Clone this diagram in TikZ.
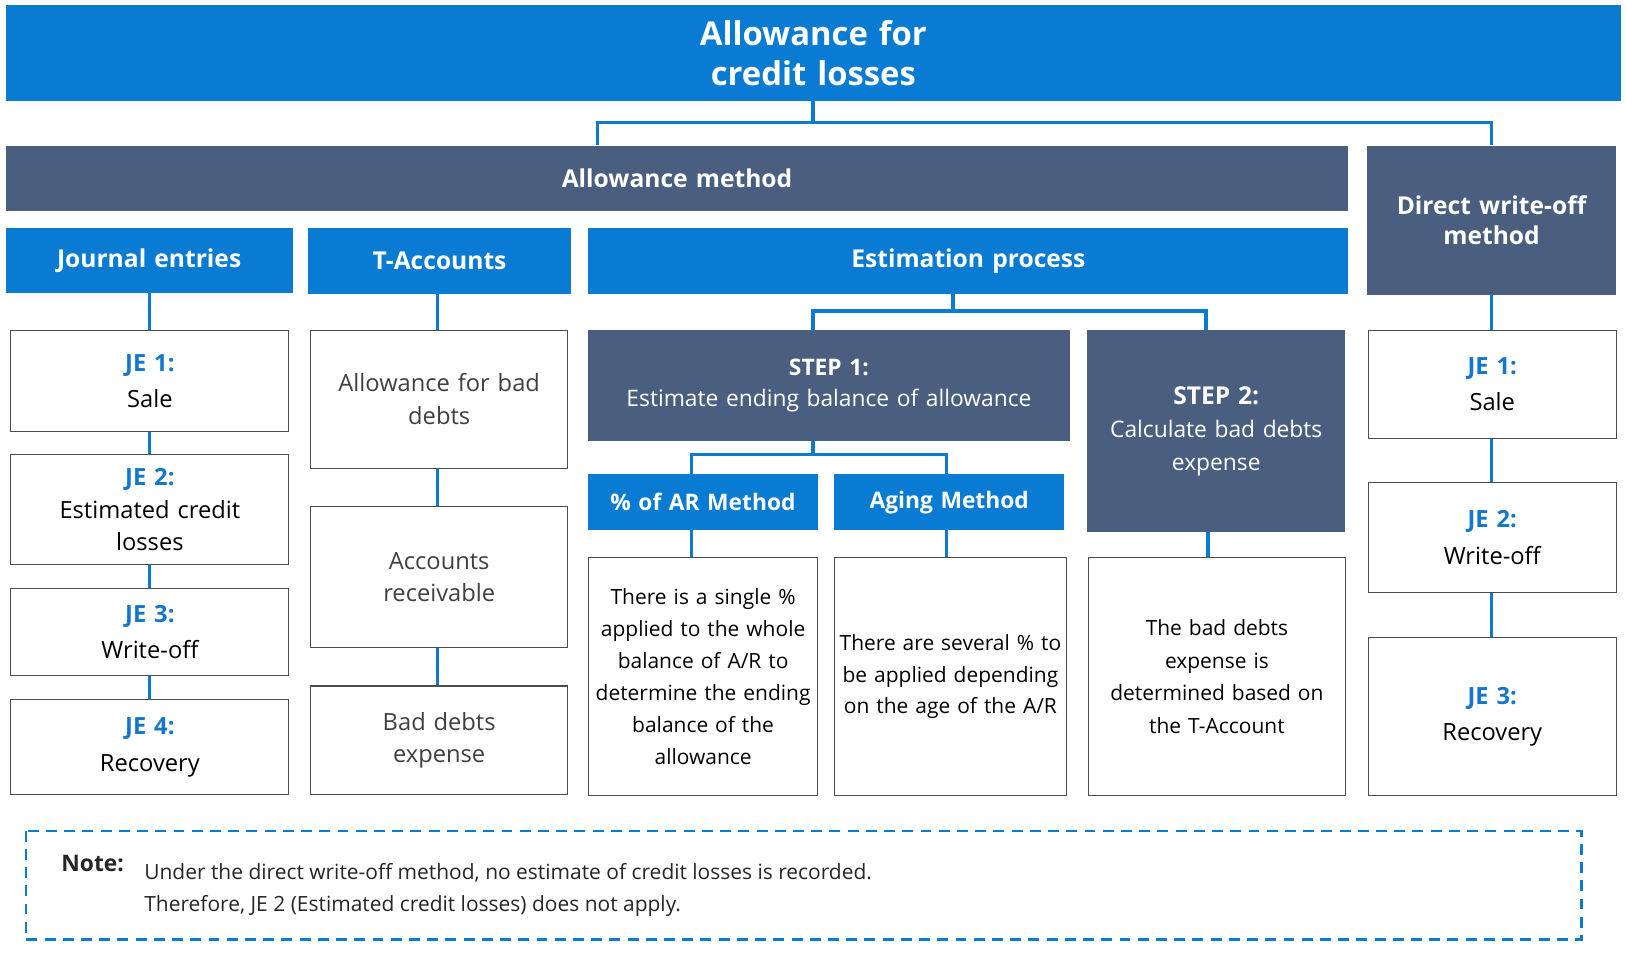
\documentclass[tikz,border=0pt]{standalone}
\usepackage{fontspec}
\setmainfont{Open Sans}
\usetikzlibrary{positioning}
\definecolor{bblue}{HTML}{0A7BD3}
\definecolor{slate}{HTML}{4A5F7F}
\definecolor{jeblue}{HTML}{1577CC}
\begin{document}
\begin{tikzpicture}[x=0.02cm,y=-0.02cm,
  base/.style={anchor=north west,inner sep=0pt,align=center,text width={#1*0.02cm}},
  bx/.style 2 args={rectangle,minimum width={#1*0.02cm},minimum height={#2*0.02cm}},
  hb/.style={fill=bblue,text=white,font=\bfseries\fontsize{13.5}{17}\selectfont},
  sb/.style={fill=slate,text=white,font=\bfseries\fontsize{13.5}{17}\selectfont},
  wb/.style={draw=black!70,line width=0.6pt,fill=white,font=\fontsize{13}{20}\selectfont},
  ln/.style={draw=bblue,line width=1.8pt},
  je/.style={text=jeblue,font=\bfseries}]
\useasboundingbox (0,0) rectangle (1568,932);
\fill[white] (0,0) rectangle (1568,932);
% connectors first
\draw[ln] (784,97) -- (784,118) -| (576,140);
\draw[ln] (784,118) -| (1438,140);
\draw[ln] (144,282) -- (144,674);
\draw[ln] (422,283) -- (422,661);
\draw[ln] (919,283) -- (919,300) -| (784,318);
\draw[ln] (919,300) -| (1163,318);
\draw[ln] (784,425) -- (784,438) -| (667,457);
\draw[ln] (784,438) -| (913,457);
\draw[ln] (667,511) -- (667,537);
\draw[ln] (913,511) -- (913,537);
\draw[ln] (1165,513) -- (1165,537);
\draw[ln] (1438,284) -- (1438,614);
% header boxes
\node[base=1558,bx={1558}{93},hb,font=\bfseries\fontsize{18}{22}\selectfont] (title) at (5,4) {Allowance for\\credit losses};
\node[base=1295,bx={1295}{63},sb] (am) at (5,140) {Allowance method};
\node[base=240,bx={240}{144},sb] (dw) at (1318,140) {Direct write-off\\method};
\node[base=277,bx={277}{62},hb] (je) at (5,220) {Journal entries};
\node[base=253,bx={253}{63},hb] (ta) at (297,220) {T-Accounts};
\node[base=733,bx={733}{63},hb] (ep) at (567,220) {Estimation process};
% journal entries
\node[base=268,bx={268}{98},wb] (j1) at (10,318) {{\color{jeblue}\bfseries JE 1:}\\Sale};
\node[base=268,bx={268}{106},wb,font=\fontsize{13}{18}\selectfont] (j2) at (10,438) {{\color{jeblue}\bfseries JE 2:}\\Estimated credit\\losses};
\node[base=268,bx={268}{84},wb] (j3) at (10,567) {{\color{jeblue}\bfseries JE 3:}\\Write-off};
\node[base=268,bx={268}{92},wb] (j4) at (10,674) {{\color{jeblue}\bfseries JE 4:}\\Recovery};
% T accounts
\node[base=248,bx={248}{133},wb,text=black!75,font=\fontsize{13}{18}\selectfont] (t1) at (299,318) {Allowance for bad\\debts\\[1.2em]};
\node[base=248,bx={248}{136},wb,text=black!75,font=\fontsize{13}{18}\selectfont] (t2) at (299,488) {Accounts\\receivable};
\node[base=248,bx={248}{105},wb,text=black!75,font=\fontsize{13}{18}\selectfont] (t3) at (299,661) {Bad debts\\expense};
% estimation
\node[base=464,bx={464}{107},sb,font=\fontsize{12.5}{17}\selectfont] (s1) at (567,318) {{\bfseries STEP 1:}\\Estimate ending balance of allowance};
\node[base=249,bx={249}{195},sb,font=\fontsize{12.5}{18}\selectfont] (s2) at (1048,318) {{\bfseries\fontsize{13.5}{18}\selectfont STEP 2:}\\Calculate bad debts\\expense};
\node[base=221,bx={221}{54},hb,font=\bfseries\fontsize{12.5}{16}\selectfont] (ar) at (567,457) {\% of AR Method};
\node[base=222,bx={222}{54},hb,font=\bfseries\fontsize{12.5}{16}\selectfont] (ag) at (804,457) {Aging Method};
\node[base=221,bx={221}{230},wb,font=\fontsize{11.5}{17.5}\selectfont] (art) at (567,537) {There is a single \%\\applied to the whole\\balance of A/R to\\determine the ending\\balance of the\\allowance};
\node[base=224,bx={224}{230},wb,font=\fontsize{11.5}{17.5}\selectfont] (agt) at (804,537) {There are several \% to\\be applied depending\\on the age of the A/R\\[3em]};
\node[base=248,bx={248}{230},wb,font=\fontsize{11.5}{18}\selectfont] (s2t) at (1049,537) {The bad debts\\expense is\\determined based on\\the T-Account\\[1em]};
% direct
\node[base=239,bx={239}{104},wb] (d1) at (1319,318) {{\color{jeblue}\bfseries JE 1:}\\Sale};
\node[base=239,bx={239}{106},wb] (d2) at (1319,465) {{\color{jeblue}\bfseries JE 2:}\\Write-off};
\node[base=239,bx={239}{153},wb] (d3) at (1319,614) {{\color{jeblue}\bfseries JE 3:}\\Recovery\\[2em]};
% note
\draw[bblue,line width=1.2pt,dash pattern=on 6pt off 4pt] (25,801) rectangle (1525,906);
\node[anchor=west,font=\bfseries\fontsize{12.5}{15}\selectfont,text=black!85] (nt) at (53,833) {Note:};
\node[anchor=north west,align=left,font=\fontsize{11.5}{18}\selectfont,text=black!85] (ntx) at (133,826) {Under the direct write-off method, no estimate of credit losses is recorded.\\Therefore, JE 2 (Estimated credit losses) does not apply.};
\end{tikzpicture}
\end{document}
